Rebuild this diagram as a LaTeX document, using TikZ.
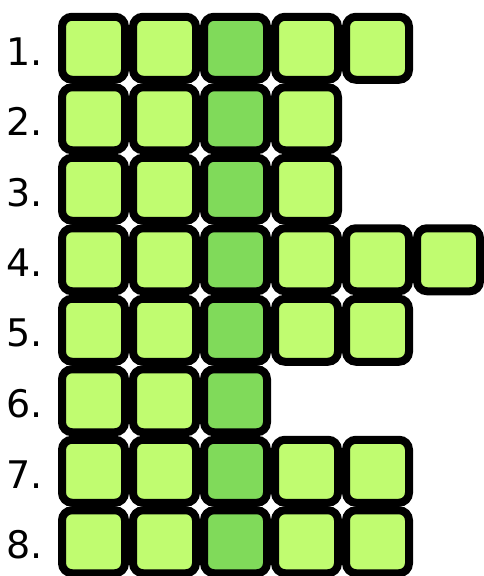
\documentclass[tikz,border=0pt]{standalone}
\usepackage{fontspec}
\setmainfont{DejaVu Sans}
\usetikzlibrary{positioning}
\definecolor{lightgreen}{RGB}{192,252,112}
\definecolor{darkgreen}{RGB}{128,218,90}
\colorlet{cellfill}{lightgreen}
\tikzset{
  cell/.style={draw=black, line width=8pt, rounded corners=10pt, minimum size=63pt, inner sep=0pt, fill=cellfill},
  rowlabel/.style={inner sep=0pt, font=\fontsize{38}{40}\selectfont},
}

\begin{document}
\begin{tikzpicture}[x=1pt,y=1pt]
  \useasboundingbox (0,0) rectangle (484,-576);
  % rows of cells, third column darker
  \foreach \n/\k in {1/5,2/4,3/4,4/6,5/5,6/3,7/5,8/5} {
    \foreach \c in {1,...,\k} {
      \ifnum\c=3 \colorlet{cellfill}{darkgreen}\else\colorlet{cellfill}{lightgreen}\fi
      \node[cell] (sq-\n-\c) at ({93.5+71*(\c-1)}, {-48.25-70.5*(\n-1)}) {};
    }
    \node[rowlabel, left=15pt of sq-\n-1, yshift=-3pt] (lab-\n) {\n.};
  }
\end{tikzpicture}
\end{document}
